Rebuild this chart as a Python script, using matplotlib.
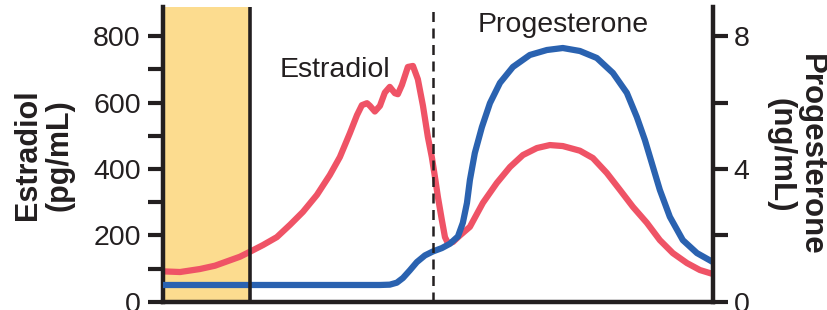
import matplotlib
matplotlib.use('Agg')
import matplotlib.pyplot as plt
from matplotlib.ticker import MultipleLocator, FixedLocator

plt.rcParams['font.family'] = ['Liberation Sans', 'DejaVu Sans']

# cycle day, estradiol (pg/mL)
e2_day = [0.00, 0.87, 1.88, 2.65, 3.26, 3.92, 4.43, 5.09, 5.80, 6.47, 7.13,
          7.84, 8.50, 9.01, 9.52, 9.88, 10.13, 10.39, 10.54, 10.79, 11.05,
          11.30, 11.55, 11.81, 11.96, 12.17, 12.47, 12.73, 12.98, 13.24,
          13.49, 13.69, 13.85, 14.00, 14.20, 14.36, 14.51, 14.76, 15.12,
          15.63, 16.29, 17.00, 17.67, 18.33, 19.04, 19.70, 20.36, 21.23,
          21.89, 22.60, 23.27, 23.93, 24.64, 25.30, 25.96, 26.68, 27.34, 28.00]
e2_val = [92, 90, 99, 109, 122, 136, 151, 171, 195, 232, 271,
          322, 382, 436, 508, 562, 592, 598, 590, 573, 590,
          630, 647, 628, 625, 653, 707, 710, 670, 590,
          496, 436, 376, 316, 247, 195, 177, 180, 200,
          226, 298, 358, 406, 442, 463, 472, 469, 455,
          433, 388, 337, 286, 238, 186, 147, 117, 96, 84]

# cycle day, progesterone (ng/mL)
p4_day = [0.00, 11.05, 11.55, 11.91, 12.22, 12.57, 12.93, 13.34, 13.75, 14.20,
          14.61, 15.02, 15.27, 15.48, 15.63, 15.88, 16.24, 16.65, 17.16, 17.82,
          18.68, 19.55, 20.36, 21.23, 22.09, 22.91, 23.62, 24.13, 24.54, 24.89,
          25.30, 25.81, 26.47, 27.19, 28.00]
p4_val = [0.51, 0.51, 0.52, 0.58, 0.72, 0.95, 1.20, 1.40, 1.52, 1.62,
          1.75, 1.97, 2.38, 2.98, 3.67, 4.48, 5.26, 5.98, 6.59, 7.07,
          7.43, 7.58, 7.64, 7.55, 7.34, 6.89, 6.29, 5.56, 4.87, 4.18,
          3.37, 2.56, 1.86, 1.47, 1.20]

menses_end = 4.43
ovulation = 13.75

red = '#EF5366'
blue = '#2A62B0'
ink = '#231F20'

fig = plt.figure(figsize=(8.27, 3.10), dpi=100)
ax = fig.add_axes([0.197, 0.026, 0.665, 0.951])
ax2 = ax.twinx()

ax.axvspan(0, menses_end, color='#FCDC8F', zorder=0, lw=0)
ax.plot(e2_day, e2_val, color=red, lw=4.5, solid_joinstyle='round',
        solid_capstyle='butt', zorder=2)
ax2.plot(p4_day, p4_val, color=blue, lw=4.5, solid_joinstyle='round',
         solid_capstyle='butt', zorder=2)
ax2.axvline(menses_end, color=ink, lw=2.6, zorder=5)
ax2.axvline(ovulation, color=ink, lw=1.8, ls=(0, (4, 2.6)), zorder=5)

ax.set_xlim(0, 28)
ax.set_ylim(0, 887)
ax2.set_ylim(0, 8.87)

for a in (ax, ax2):
    a.spines['top'].set_visible(False)
ax.spines['right'].set_visible(False)
ax2.spines['left'].set_visible(False)
ax2.spines['bottom'].set_visible(False)
for s in ('left', 'bottom'):
    ax.spines[s].set_linewidth(3.2)
    ax.spines[s].set_color(ink)
ax2.spines['right'].set_linewidth(3.2)
ax2.spines['right'].set_color(ink)

ax.set_xticks([])
ax.yaxis.set_major_locator(MultipleLocator(200))
ax.yaxis.set_minor_locator(MultipleLocator(100))
ax.tick_params(axis='y', which='both', length=11, width=3.0, color=ink,
               labelsize=20.5, labelcolor=ink, pad=5)
ax2.yaxis.set_major_locator(FixedLocator([0, 4, 8]))
ax2.yaxis.set_minor_locator(FixedLocator([2, 6]))
ax2.set_yticklabels(['0', '4', '8'])
ax2.tick_params(axis='y', which='both', length=11, width=3.0, color=ink,
                labelsize=20.5, labelcolor=ink, pad=4)

ax.text(8.76, 698, 'Estradiol', ha='center', va='center', fontsize=20.5,
        color=ink)
ax.text(20.4, 833, 'Progesterone', ha='center', va='center', fontsize=20.5,
        color=ink)

fig.text(0.053, 0.5, 'Estradiol\n(pg/mL)', rotation=90, ha='center',
         va='center', fontsize=22, fontweight='bold', color=ink,
         linespacing=1.05)
fig.text(0.962, 0.5, 'Progesterone\n(ng/mL)', rotation=270, ha='center',
         va='center', fontsize=22.5, fontweight='bold', color=ink,
         linespacing=1.0)

fig.savefig('out.png', dpi=100)
